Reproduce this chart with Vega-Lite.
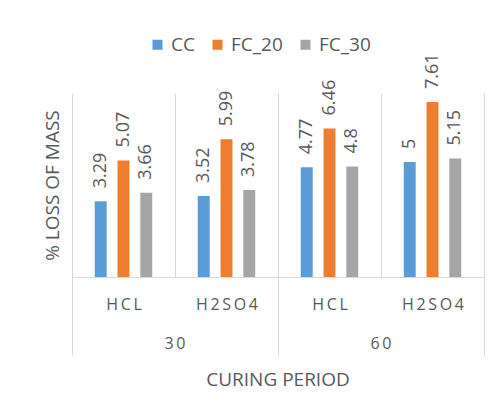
{
  "$schema": "https://vega.github.io/schema/vega-lite/v6.json",
  "padding": {"left": 43, "top": 35, "right": 5, "bottom": 5},
  "background": "white",
  "data": {"values": [
    {"period": 30, "acid": "HCL", "series": "CC", "value": 3.29},
    {"period": 30, "acid": "HCL", "series": "FC_20", "value": 5.07},
    {"period": 30, "acid": "HCL", "series": "FC_30", "value": 3.66},
    {"period": 30, "acid": "H2SO4", "series": "CC", "value": 3.52},
    {"period": 30, "acid": "H2SO4", "series": "FC_20", "value": 5.99},
    {"period": 30, "acid": "H2SO4", "series": "FC_30", "value": 3.78},
    {"period": 60, "acid": "HCL", "series": "CC", "value": 4.77},
    {"period": 60, "acid": "HCL", "series": "FC_20", "value": 6.46},
    {"period": 60, "acid": "HCL", "series": "FC_30", "value": 4.8},
    {"period": 60, "acid": "H2SO4", "series": "CC", "value": 5},
    {"period": 60, "acid": "H2SO4", "series": "FC_20", "value": 7.61},
    {"period": 60, "acid": "H2SO4", "series": "FC_30", "value": 5.15}
  ]},
  "facet": {
    "column": {
      "field": "period", "type": "ordinal", "title": "CURING PERIOD",
      "header": {
        "labelOrient": "bottom", "titleOrient": "bottom",
        "labelFontSize": 16, "labelColor": "#595959", "labelPadding": -20,
        "labelExpr": "join(split(datum.label, ''), '\u2009')",
        "titleFontSize": 19, "titleColor": "#595959", "titleFontWeight": "normal", "titlePadding": 5
      }
    }
  },
  "spacing": 0,
  "bounds": "flush",
  "spec": {
    "width": 206,
    "height": 184,
    "encoding": {
      "x": {
        "field": "acid", "type": "nominal", "sort": ["HCL", "H2SO4"],
        "scale": {"paddingInner": 0, "paddingOuter": 0},
        "axis": {
          "title": null, "labelAngle": 0, "tickBand": "extent", "tickSize": 78,
          "tickColor": {"condition": {"test": "datum.value === 'HCL'", "value": "transparent"}, "value": "#D9D9D9"},
          "grid": true, "gridColor": "#D9D9D9", "domainColor": "#D9D9D9",
          "labelFontSize": 16, "labelColor": "#595959", "labelPadding": -59,
          "labelExpr": "join(split(datum.label, ''), '\u2009')"
        }
      },
      "xOffset": {
        "field": "series", "type": "nominal", "sort": ["CC", "FC_20", "FC_30"],
        "scale": {"paddingInner": 0.476, "paddingOuter": 1.19}
      },
      "y": {
        "field": "value", "type": "quantitative",
        "scale": {"domain": [0, 8], "nice": false},
        "axis": {
          "title": "% LOSS OF MASS", "labels": false, "ticks": false, "domain": false, "grid": false,
          "titleFontSize": 19, "titleColor": "#595959", "titleFontWeight": "normal", "titlePadding": 10
        }
      }
    },
    "layer": [
      {
        "mark": {"type": "bar"},
        "encoding": {
          "color": {
            "field": "series", "type": "nominal",
            "scale": {"domain": ["CC", "FC_20", "FC_30"], "range": ["#5B9BD5", "#ED7D31", "#A5A5A5"]},
            "legend": {
              "orient": "none", "legendX": 76, "legendY": -58, "direction": "horizontal", "title": null,
              "symbolType": "square", "symbolSize": 100, "symbolStrokeWidth": 0,
              "labelFontSize": 19, "labelColor": "#595959", "labelOffset": 4, "columnPadding": 13
            }
          }
        }
      },
      {
        "mark": {"type": "text", "angle": 270, "align": "left", "baseline": "middle", "dx": 13, "fontSize": 18, "color": "#595959"},
        "encoding": {"text": {"field": "value", "type": "quantitative"}}
      }
    ]
  },
  "config": {"font": "Open Sans", "view": {"stroke": null}}
}
